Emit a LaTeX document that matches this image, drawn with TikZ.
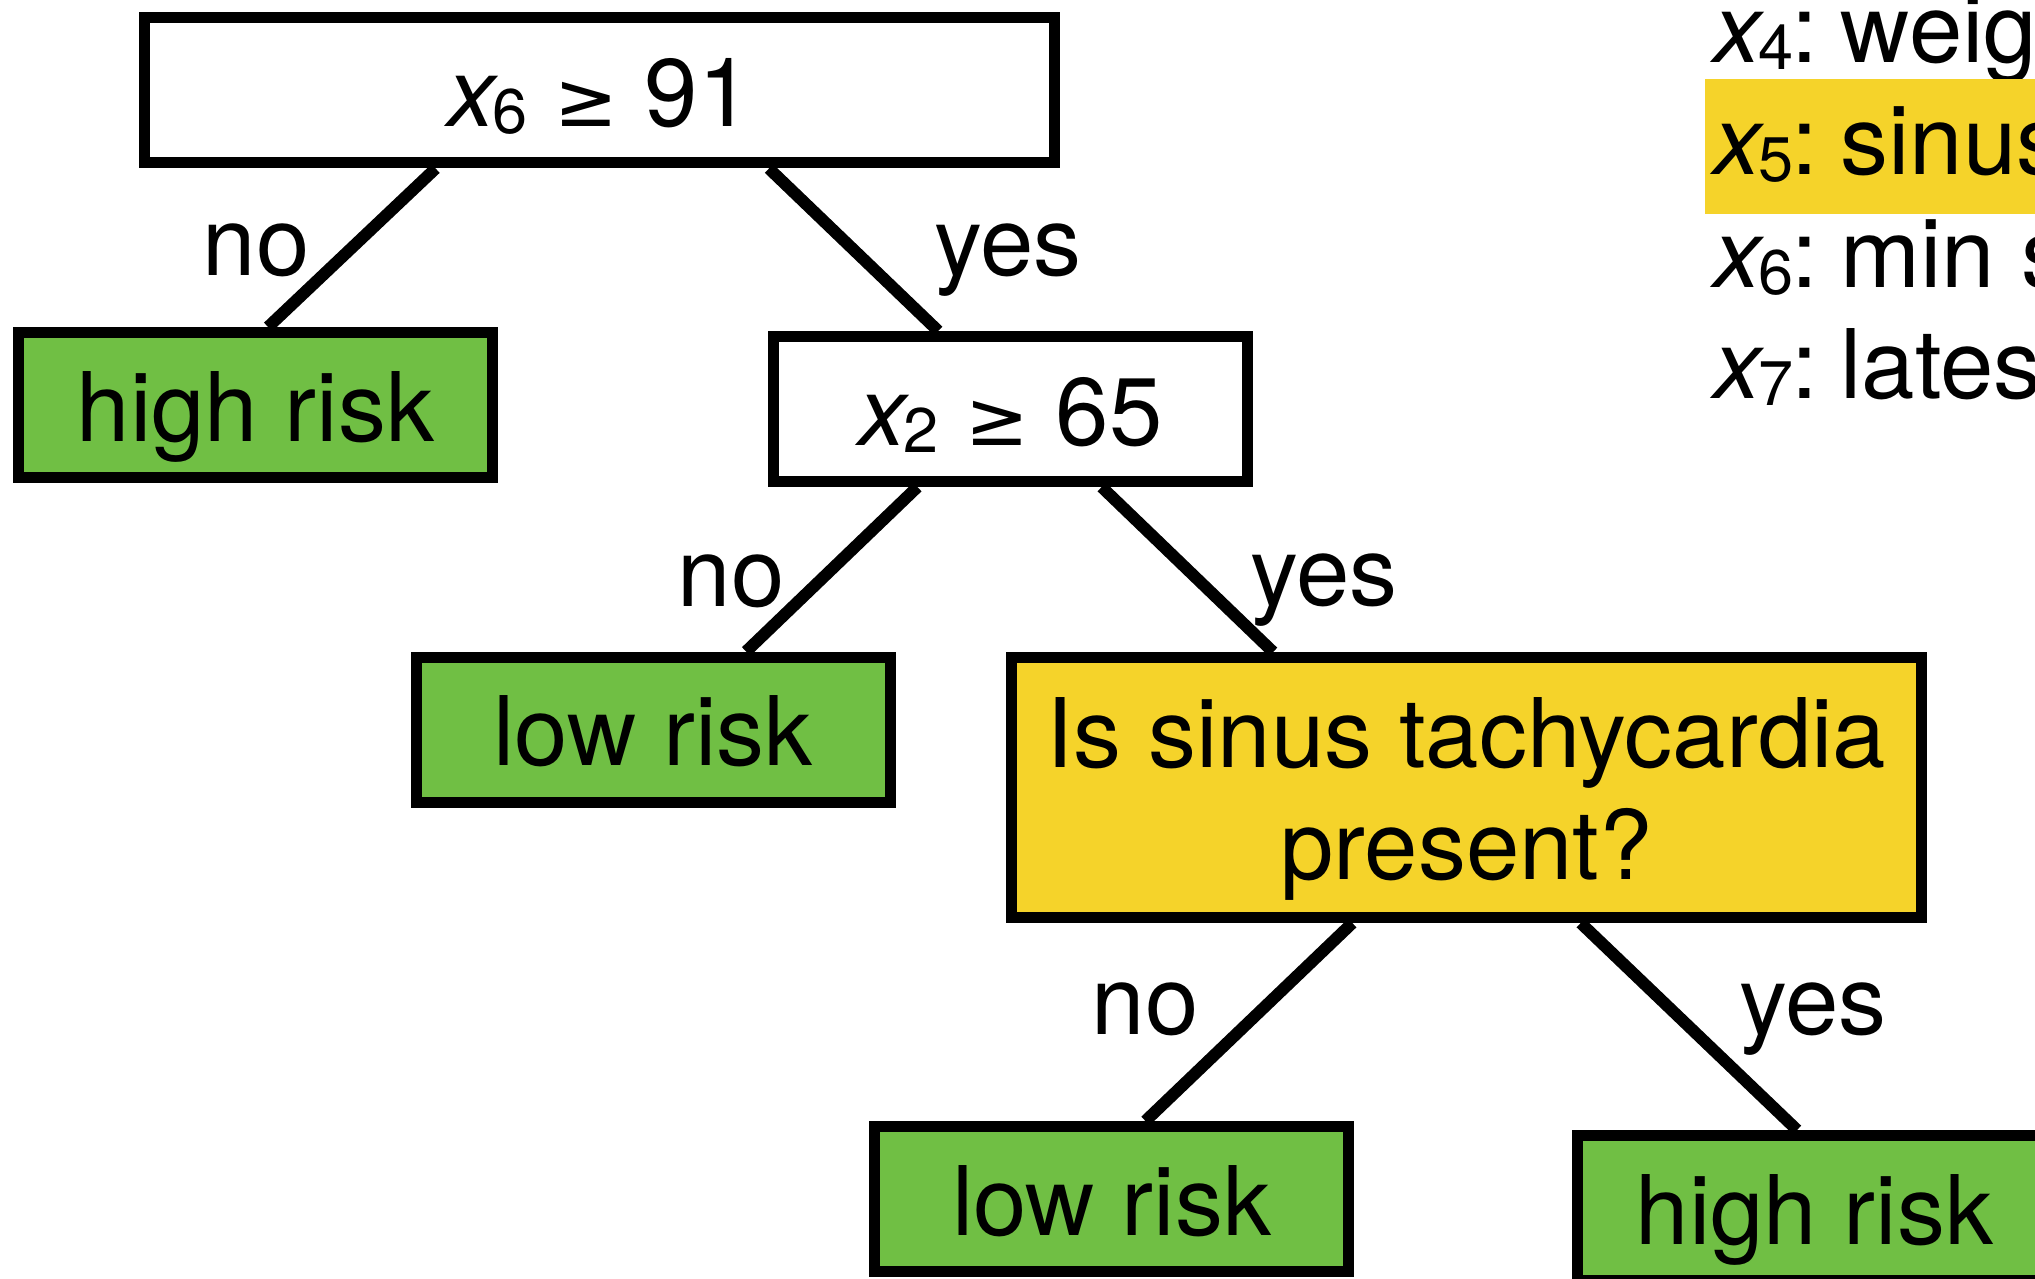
\documentclass[tikz,border=0pt]{standalone}
\usepackage{fontspec}
\setmainfont{TeX Gyre Heros}
\newfontfamily\relfont{DejaVu Sans}
\usetikzlibrary{calc}
\definecolor{riskgreen}{HTML}{70BF44}
\definecolor{askyellow}{HTML}{F5D32A}
% oblique x with a lowered index digit
\newcommand{\xsub}[1]{{\itshape x}\kern-3pt\raisebox{-7pt}{\fontsize{63}{63}\selectfont #1}}
% greater-or-equal sign with a flat lower bar
\newcommand{\geqsign}{{\relfont\fontsize{76}{76}\selectfont ≥}}
% one entry of the variable key
\newcommand{\keyentry}[2]{\xsub{#1}\kern-2pt:\kern-4pt\ #2}

\begin{document}
\begin{tikzpicture}[x=1pt,y=-1pt,
  font=\fontsize{96}{112}\selectfont,
  box/.style={draw=black, line width=11pt, inner sep=0pt, minimum height=145pt,
              text height=76pt, text depth=4pt},
  smallbox/.style={box, minimum width=474pt},
  widebox/.style={box, minimum width=910pt},
  leaf/.style={smallbox, fill=riskgreen},
  edge/.style={line width=12pt},
  lbl/.style={anchor=base, inner sep=0pt},
  key/.style={anchor=base west, inner sep=0pt}]

\useasboundingbox (0,0) rectangle (2035,1279);
\clip (0,0) rectangle (2035,1279);

% decision nodes and leaves
\node[widebox, fill=white] (root) at (599.5,90.5) {\xsub{6} \geqsign\ 91};
\node[leaf] (hl) at (255.5,405) {high risk};
\node[smallbox, fill=white] (q2) at (1010.5,409) {\xsub{2} \geqsign\ 65};
\node[leaf] (lr1) at (653,729.5) {low risk};
\node[box, minimum width=910pt, minimum height=260pt, fill=askyellow, text depth=116pt]
  (q5) at (1466.5,787.5) {\begin{tabular}[t]{@{}c@{}}Is sinus tachycardia\\present?\end{tabular}};
\node[leaf] (lr2) at (1111.5,1199) {low risk};
\node[leaf] (hr2) at (1814.5,1208) {high risk};

% branches
\draw[edge] ($(root.south west)!0.322!(root.south east)$) -- ($(hl.north west)!0.526!(hl.north east)$);
\draw[edge] ($(root.south west)!0.684!(root.south east)$) -- ($(q2.north west)!0.351!(q2.north east)$);
\draw[edge] ($(q2.south west)!0.308!(q2.south east)$) -- ($(lr1.north west)!0.692!(lr1.north east)$);
\draw[edge] ($(q2.south west)!0.688!(q2.south east)$) -- ($(q5.north west)!0.290!(q5.north east)$);
\draw[edge] ($(q5.south west)!0.376!(q5.south east)$) -- ($(lr2.north west)!0.570!(lr2.north east)$);
\draw[edge] ($(q5.south west)!0.624!(q5.south east)$) -- ($(hr2.north west)!0.464!(hr2.north east)$);

% branch labels
\node[lbl] (no1) at (256,275) {no};
\node[lbl] (yes1) at (1008,275) {yes};
\node[lbl] (no2) at (731,606) {no};
\node[lbl] (yes2) at (1324,605) {yes};
\node[lbl] (no3) at (1145,1034) {no};
\node[lbl] (yes3) at (1813,1034) {yes};

% variable key
\node[key] (k4) at (1713,63) {\keyentry{4}{weig}};
\node[key, fill=askyellow, inner xsep=8pt, text height=96pt, text depth=39pt] (k5) at (1705,175) {\keyentry{5}{sinus}};
\node[key] (k6) at (1713,287) {\keyentry{6}{min s}};
\node[key] (k7) at (1713,398) {\keyentry{7}{lates}};
\end{tikzpicture}
\end{document}
